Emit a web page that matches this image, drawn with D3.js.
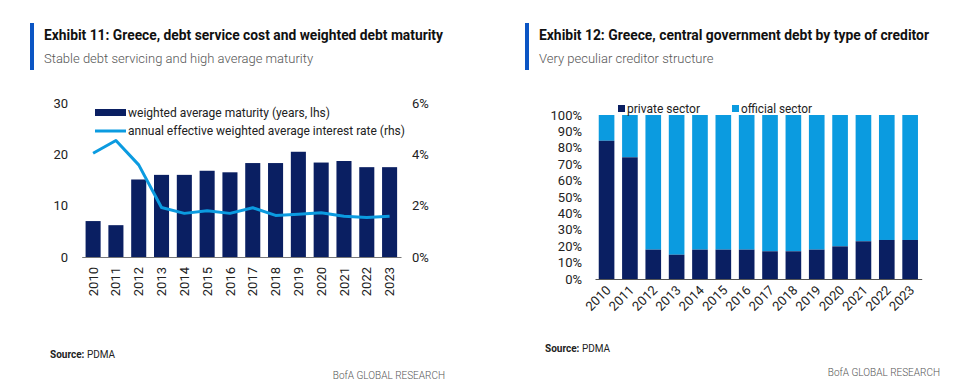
<!DOCTYPE html>
<html>
<head>
<meta charset="utf-8">
<script src="https://cdn.jsdelivr.net/npm/d3@7"></script>
<style>
  body { margin: 0; background: #fff; }
  svg text { font-family: "Liberation Sans Narrow", Roboto, Arial, sans-serif; }
  .title { font-weight: bold; font-size: 14px; fill: #111; }
  .subtitle { font-family: Roboto, sans-serif; font-weight: 300; font-size: 13px; fill: #555; }
  .tick-label { font-size: 13px; fill: #222; }
  .legend-label { font-size: 13px; fill: #222; }
  .note { font-size: 10px; fill: #222; }
  .brand { font-family: Roboto, sans-serif; font-weight: 300; font-size: 10px; fill: #555; }
</style>
</head>
<body>
<div id="chart"></div>
<script>
// data
var years = ["2010","2011","2012","2013","2014","2015","2016","2017","2018","2019","2020","2021","2022","2023"];
var maturity = [7.0, 6.2, 15.1, 16.0, 16.0, 16.8, 16.5, 18.3, 18.3, 20.5, 18.4, 18.7, 17.5, 17.5];
var interestRate = [4.04, 4.54, 3.59, 1.93, 1.70, 1.80, 1.70, 1.92, 1.62, 1.67, 1.72, 1.59, 1.54, 1.59];
var privateShare = [84.3, 74.2, 17.9, 14.8, 17.9, 17.9, 17.9, 16.9, 16.9, 17.9, 19.9, 23.0, 23.8, 23.8];
var leftTicks = [0, 10, 20, 30];
var rightTicks = [0, 2, 4, 6];
var pctTicks = [0, 10, 20, 30, 40, 50, 60, 70, 80, 90, 100];

var navy = "#0a1f62";
var lightBlue = "#0b9be0";

var svgWidth = 955;
var svgHeight = 386;

var svg = d3.select("#chart")
  .append("svg")
  .attr("width", svgWidth)
  .attr("height", svgHeight);

// squeeze a text to the width it has in the reference (narrow font not installed)
function fit(sel, w) {
  sel.attr("textLength", w).attr("lengthAdjust", "spacingAndGlyphs");
  return sel;
}

// ---- headers
function header(x, title, titleW, sub) {
  svg.append("rect").attr("x", x).attr("y", 23).attr("width", 4).attr("height", 47).attr("fill", "#0b55c4");
  fit(svg.append("text").attr("class", "title").attr("x", x + 14).attr("y", 40).text(title), titleW);
  svg.append("text").attr("class", "subtitle").attr("x", x + 14).attr("y", 63).text(sub);
}
header(30, "Exhibit 11: Greece, debt service cost and weighted debt maturity", 399, "Stable debt servicing and high average maturity");
header(525, "Exhibit 12: Greece, central government debt by type of creditor", 390, "Very peculiar creditor structure");

// ---- Exhibit 11
var x1 = d3.scaleBand().domain(years).range([81.7, 401]).paddingInner(0.34).paddingOuter(0.17);
var yL = d3.scaleLinear().domain([0, 30]).range([257, 103]);
var yR = d3.scaleLinear().domain([0, 6]).range([257, 103]);

var g1 = svg.append("g");

g1.selectAll(".bar1")
  .data(years)
  .enter()
  .append("rect")
  .attr("x", d => x1(d))
  .attr("y", (d, i) => yL(maturity[i]))
  .attr("width", x1.bandwidth())
  .attr("height", (d, i) => yL(0) - yL(maturity[i]))
  .attr("fill", navy);

var line = d3.line()
  .x((d, i) => x1(years[i]) + x1.bandwidth() / 2)
  .y(d => yR(d));

g1.append("path")
  .datum(interestRate)
  .attr("d", line)
  .attr("fill", "none")
  .attr("stroke", lightBlue)
  .attr("stroke-width", 3)
  .attr("stroke-linejoin", "round");

var leftAxis = d3.axisLeft(yL).tickValues(leftTicks).tickSize(0).tickPadding(0);
g1.append("g")
  .attr("transform", "translate(68,0)")
  .call(leftAxis)
  .call(g => g.select(".domain").remove())
  .selectAll("text").attr("class", "tick-label").attr("font-size", null).attr("font-family", null);

var rightAxis = d3.axisRight(yR).tickValues(rightTicks).tickSize(0).tickPadding(0).tickFormat(d => d + "%");
g1.append("g")
  .attr("transform", "translate(412,0)")
  .call(rightAxis)
  .call(g => g.select(".domain").remove())
  .selectAll("text").attr("class", "tick-label").attr("font-size", null).attr("font-family", null);

var bottomAxis1 = d3.axisBottom(x1).tickSize(0).tickPadding(0);
var xg1 = g1.append("g")
  .attr("transform", "translate(0,257)")
  .call(bottomAxis1);
xg1.select(".domain").attr("stroke", "#777").attr("stroke-width", 1.2);
xg1.selectAll("text")
  .attr("class", "tick-label").attr("font-size", null).attr("font-family", null)
  .attr("transform", "rotate(-90)")
  .attr("text-anchor", "end")
  .attr("x", -10)
  .attr("y", 0)
  .attr("dy", "0.35em");

// legend 1
g1.append("rect").attr("x", 95).attr("y", 109).attr("width", 31).attr("height", 7).attr("fill", navy);
fit(g1.append("text").attr("class", "legend-label").attr("x", 128).attr("y", 117).text("weighted average maturity (years, lhs)"), 202);
g1.append("line").attr("x1", 95).attr("x2", 126).attr("y1", 131).attr("y2", 131).attr("stroke", lightBlue).attr("stroke-width", 3);
fit(g1.append("text").attr("class", "legend-label").attr("x", 128).attr("y", 135).text("annual effective weighted average interest rate (rhs)"), 277);

svg.append("text").attr("class", "note").attr("x", 50).attr("y", 358)
  .html('<tspan font-weight="bold">Source:</tspan> PDMA');
svg.append("text").attr("class", "brand").attr("x", 445).attr("y", 379).attr("text-anchor", "end").text("BofA GLOBAL RESEARCH");

// ---- Exhibit 12
var x2 = d3.scaleBand().domain(years).range([595, 921.7]).paddingInner(0.33).paddingOuter(0.16);
var y2 = d3.scaleLinear().domain([0, 100]).range([279, 115]);

var g2 = svg.append("g");

// official sector (full column behind)
g2.selectAll(".official")
  .data(years)
  .enter()
  .append("rect")
  .attr("x", d => x2(d))
  .attr("y", y2(100))
  .attr("width", x2.bandwidth())
  .attr("height", (d, i) => y2(privateShare[i]) - y2(100))
  .attr("fill", lightBlue);

g2.selectAll(".private")
  .data(years)
  .enter()
  .append("rect")
  .attr("x", d => x2(d))
  .attr("y", (d, i) => y2(privateShare[i]))
  .attr("width", x2.bandwidth())
  .attr("height", (d, i) => y2(0) - y2(privateShare[i]))
  .attr("fill", navy);

var pctAxis = d3.axisLeft(y2).tickValues(pctTicks).tickSize(0).tickPadding(0).tickFormat(d => d + "%");
g2.append("g")
  .attr("transform", "translate(582,0)")
  .call(pctAxis)
  .call(g => g.select(".domain").remove())
  .selectAll("text").attr("class", "tick-label").attr("font-size", null).attr("font-family", null);

var bottomAxis2 = d3.axisBottom(x2).tickSize(0).tickPadding(0);
var xg2 = g2.append("g")
  .attr("transform", "translate(0,279)")
  .call(bottomAxis2);
xg2.select(".domain").attr("stroke", "#555").attr("stroke-width", 1.2);
xg2.selectAll("text")
  .attr("class", "tick-label").attr("font-size", null).attr("font-family", null)
  .attr("text-anchor", "end")
  .attr("y", 0)
  .attr("dy", 0)
  .attr("transform", "translate(5,12) rotate(-45)");

// legend 2
g2.append("rect").attr("x", 618).attr("y", 105).attr("width", 7).attr("height", 7).attr("fill", navy);
fit(g2.append("text").attr("class", "legend-label").attr("x", 627).attr("y", 113).text("private sector"), 73);
g2.append("rect").attr("x", 732).attr("y", 105).attr("width", 7).attr("height", 7).attr("fill", lightBlue);
fit(g2.append("text").attr("class", "legend-label").attr("x", 741).attr("y", 113).text("official sector"), 71);

svg.append("text").attr("class", "note").attr("x", 545).attr("y", 352)
  .html('<tspan font-weight="bold">Source:</tspan> PDMA');
svg.append("text").attr("class", "brand").attr("x", 940).attr("y", 376).attr("text-anchor", "end").text("BofA GLOBAL RESEARCH");
</script>
</body>
</html>
